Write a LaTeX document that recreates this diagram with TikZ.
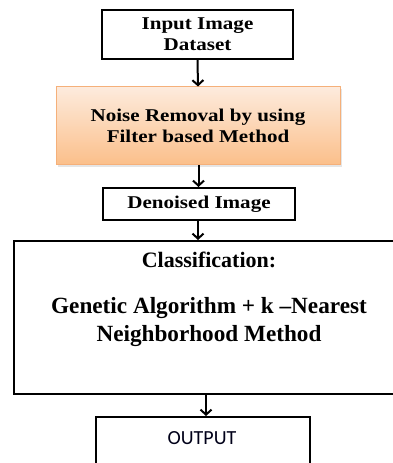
\documentclass[tikz,border=0pt]{standalone}
\usepackage{fontspec}
\setmainfont{Liberation Serif}
\newfontfamily\wideserif{Liberation Serif}[FakeStretch=1.17]
\newfontfamily\calib{Carlito}
\usetikzlibrary{arrows.meta}
\definecolor{orgtop}{HTML}{FDEBDD}
\definecolor{orgbot}{HTML}{FBBF8A}
\definecolor{orgline}{HTML}{F5B07A}
\tikzset{
  box/.style={draw=black, line width=2pt, fill=white, inner sep=0pt, align=center},
  arr/.style={line width=2pt, -{Straight Barb[length=5pt,width=11pt,line width=2pt]}},
  toptext/.style={font=\wideserif\bfseries\fontsize{18}{21}\selectfont},
}
\begin{document}
\begin{tikzpicture}[x=1pt,y=1pt]
\useasboundingbox (0,0) rectangle (393,463);
\clip (0,0) rectangle (393,463);
\fill[white] (0,0) rectangle (393,463);
% box 1
\node[box, toptext, minimum width=191pt, minimum height=49pt] (b1) at (197.5,428.5) {Input Image\\Dataset};
% box 2 with shadow
\fill[black!10] (58,296) rectangle (342,374);
\node[draw=orgline, line width=1pt, top color=orgtop, bottom color=orgbot, toptext, align=center,
      minimum width=284pt, minimum height=78pt, inner sep=0pt] (b2) at (198,337)
      {\fontsize{18}{22}\selectfont Noise Removal by using\\Filter based Method};
% box 3
\node[box, toptext, minimum width=192pt, minimum height=32pt] (b3) at (199,259) {Denoised Image};
% box 4
\node[box, minimum width=390pt, minimum height=153pt] (b4) at (209,145.5) {};
\node[font=\bfseries\fontsize{22}{28}\selectfont] (c1) at (209,203) {Classification:};
\node[font=\bfseries\fontsize{23.2}{28}\selectfont, align=center] (c2) at (209,141) {Genetic Algorithm + k –Nearest\\Neighborhood Method};
% box 5
\node[box, minimum width=214pt, minimum height=60pt] (b5) at (203,16) {};
\node[font=\calib\fontsize{20}{24}\selectfont, text=black!90!blue] (o1) at (202,25) {OUTPUT};
% arrows
\draw[arr] (b1.south) -- (b2.north);
\draw[arr] ([xshift=0.5pt]b2.south) -- ([xshift=-0.5pt]b3.north);
\draw[arr] ([xshift=-1pt]b3.south) -- ([xshift=-1pt]b3.south |- b4.north);
\draw[arr] ([xshift=-3pt]b4.south) -- ([xshift=3pt]b5.north);
\end{tikzpicture}
\end{document}
